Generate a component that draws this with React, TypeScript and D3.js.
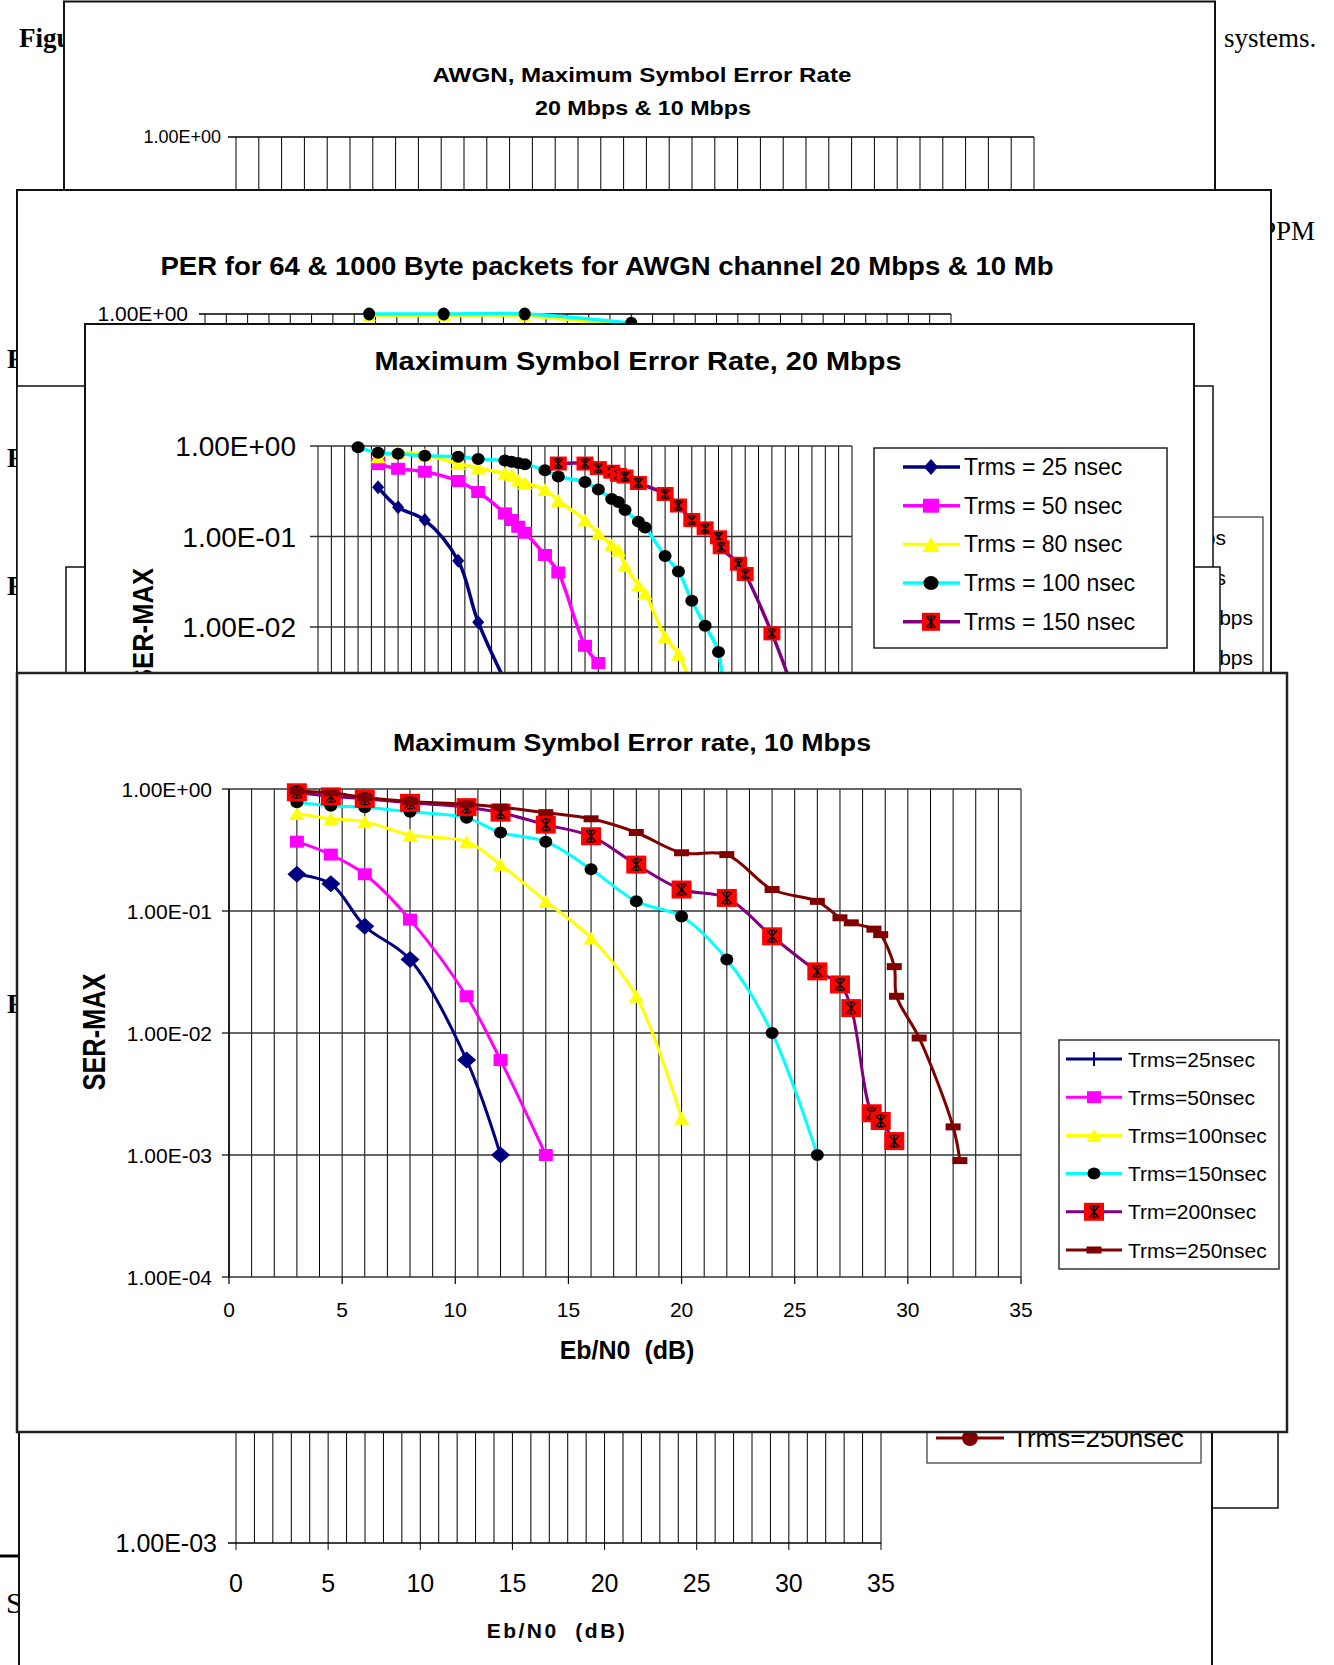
import React from "react";
import * as d3 from "d3";

type Pt = [number, number];

// front chart: Maximum Symbol Error rate, 10 Mbps   [Eb/N0 dB, SER]
const ser10_25: Pt[] = [[3, 0.2], [4.5, 0.167], [6, 0.075], [8, 0.04], [10.5, 0.006], [12, 0.001]];
const ser10_50: Pt[] = [[3, 0.37], [4.5, 0.29], [6, 0.2], [8, 0.085], [10.5, 0.02], [12, 0.006], [14, 0.001]];
const ser10_100: Pt[] = [[3, 0.63], [4.5, 0.57], [6, 0.54], [8, 0.42], [10.5, 0.37], [12, 0.24], [14, 0.12], [16, 0.06], [18, 0.02], [20, 0.002]];
const ser10_150: Pt[] = [[3, 0.78], [4.5, 0.73], [6, 0.71], [8, 0.65], [10.5, 0.58], [12, 0.44], [14, 0.37], [16, 0.22], [18, 0.12], [20, 0.09], [22, 0.04], [24, 0.01], [26, 0.001]];
const ser10_200: Pt[] = [[3, 0.94], [4.5, 0.87], [6, 0.83], [8, 0.77], [10.5, 0.71], [12, 0.64], [14, 0.51], [16, 0.41], [18, 0.24], [20, 0.15], [22, 0.128], [24, 0.062], [26, 0.032], [27, 0.025], [27.5, 0.016], [28.4, 0.0022], [28.8, 0.0019], [29.4, 0.0013]];
const ser10_250: Pt[] = [[3, 0.96], [4.5, 0.93], [6, 0.85], [8, 0.79], [10.5, 0.75], [12, 0.71], [14, 0.64], [16, 0.57], [18, 0.44], [20, 0.3], [22, 0.29], [24, 0.15], [26, 0.12], [27, 0.088], [27.5, 0.08], [28.5, 0.071], [28.8, 0.064], [29.4, 0.035], [29.5, 0.02], [30.5, 0.0091], [32, 0.0017], [32.3, 0.0009]];
const legend10 = ["Trms=25nsec", "Trms=50nsec", "Trms=100nsec", "Trms=150nsec", "Trm=200nsec", "Trms=250nsec"];

// chart behind: Maximum Symbol Error Rate, 20 Mbps
const ser20_25: Pt[] = [[4.5, 0.35], [6, 0.21], [8, 0.152], [10.5, 0.054], [12, 0.0113], [14.5, 0.0018]];
const ser20_50: Pt[] = [[4.5, 0.63], [6, 0.56], [8, 0.52], [10.5, 0.41], [12, 0.31], [14, 0.18], [14.5, 0.152], [15, 0.128], [15.5, 0.11], [17, 0.0625], [18, 0.04], [20, 0.0062], [21, 0.004]];
const ser20_80: Pt[] = [[4.5, 0.76], [6, 0.85], [8, 0.8], [10.5, 0.64], [12, 0.57], [14, 0.5], [14.5, 0.48], [15, 0.42], [15.5, 0.39], [17, 0.33], [18, 0.25], [20, 0.152], [21, 0.108], [22, 0.081], [22.5, 0.071], [23, 0.048], [24, 0.029], [24.5, 0.0236], [26, 0.0078], [27, 0.005], [28, 0.0022]];
const ser20_100: Pt[] = [[3, 0.97], [4.5, 0.84], [6, 0.82], [8, 0.78], [10.5, 0.76], [12, 0.72], [14, 0.69], [14.5, 0.67], [15, 0.65], [15.5, 0.63], [17, 0.54], [18, 0.46], [20, 0.4], [21, 0.33], [22, 0.26], [22.5, 0.24], [23, 0.196], [24, 0.146], [24.5, 0.126], [26, 0.061], [27, 0.041], [28, 0.0195], [29, 0.0103], [30, 0.0053], [30.3, 0.0015]];
const ser20_150: Pt[] = [[18, 0.64], [20, 0.64], [21, 0.57], [22, 0.52], [22.5, 0.48], [23, 0.46], [24, 0.39], [26, 0.295], [27, 0.22], [28, 0.152], [29, 0.123], [30, 0.098], [30.2, 0.076], [31.5, 0.05], [32, 0.0385], [34, 0.0085], [35.5, 0.0022]];
const legend20 = ["Trms = 25 nsec", "Trms = 50 nsec", "Trms = 80 nsec", "Trms = 100 nsec", "Trms = 150 nsec"];

// PER chart, only its top strip shows
const perCyan: Pt[] = [[7.7, 1], [11.2, 1], [15, 1], [20, 0.81]];
const perYellow: Pt[] = [[7.7, 0.97], [11.2, 0.97], [15, 0.96], [20, 0.74]];
const perLegend = ["20 Mbps", "10 Mbps", "20 Mbps", "10 Mbps"];

const yTickVals = [1, 0.1, 0.01, 0.001, 0.0001];
const yTickText = ["1.00E+00", "1.00E-01", "1.00E-02", "1.00E-03", "1.00E-04"];
const xTicks = [0, 5, 10, 15, 20, 25, 30, 35];

const SANS = "'Liberation Sans', Arial, sans-serif";
const SERIF = "'Liberation Serif', 'Times New Roman', serif";
const NAVY = "#000080", MAGENTA = "#FF00FF", YELLOW = "#FFFF00", CYAN = "#00FFFF";
const PURPLE = "#800080", MAROON = "#800000", RED = "#FF0000";

function marker(kind: string, x: number, y: number, w: number, h: number, c: string, key?: React.Key) {
  const hw = w / 2, hh = h / 2;
  if (kind === "diamond") return <path key={key} d={`M${x},${y - hh}L${x + hw},${y}L${x},${y + hh}L${x - hw},${y}Z`} fill={c} />;
  if (kind === "square" || kind === "dash") return <rect key={key} x={x - hw} y={y - hh} width={w} height={h} fill={c} />;
  if (kind === "triangle") return <path key={key} d={`M${x},${y - hh}L${x + hw},${y + hh}L${x - hw},${y + hh}Z`} fill={c} />;
  if (kind === "circle") return <ellipse key={key} cx={x} cy={y} rx={hw} ry={hh} fill={c} />;
  if (kind === "plus") return <path key={key} d={`M${x},${y - hh}V${y + hh}`} stroke={c} strokeWidth={2} />;
  if (kind === "star") {
    const ax = w * 0.25, ay = h * 0.32, cap = w * 0.14;
    return (
      <g key={key}>
        <rect x={x - hw} y={y - hh} width={w} height={h} fill={c} />
        <path d={`M${x},${y - ay}V${y + ay}M${x - ax},${y - ay}L${x + ax},${y + ay}M${x + ax},${y - ay}L${x - ax},${y + ay}M${x - cap},${y - ay}H${x + cap}M${x - cap},${y + ay}H${x + cap}`}
          stroke="#000" strokeWidth={1.4} fill="none" />
      </g>
    );
  }
  return null;
}

type Ser = { data: Pt[]; color: string; mk: string; mw: number; mh: number; mc: string };

function Series({ s, x, y, lw }: { s: Ser; x: any; y: any; lw: number }) {
  const line = d3.line<Pt>().x(d => x(d[0])).y(d => y(d[1])).curve(d3.curveCatmullRom.alpha(0.5));
  return (
    <g>
      <path d={line(s.data) || ""} fill="none" stroke={s.color} strokeWidth={lw} strokeLinejoin="round" strokeLinecap="round" />
      {s.data.map((d, i) => marker(s.mk, x(d[0]), y(d[1]), s.mw, s.mh, s.mc, i))}
    </g>
  );
}

function Box({ x0, y0, x1, y1, sw = 2, stroke = "#111" }: any) {
  return <rect x={x0} y={y0} width={x1 - x0} height={y1 - y0} fill="#fff" stroke={stroke} strokeWidth={sw} />;
}

function PageText() {
  return (
    <g fontFamily={SERIF} fontSize={27}>
      <text x={19} y={47} fontWeight="bold">Figure</text>
      <text x={1224} y={47}>systems.</text>
      <text x={1261} y={240}>PPM</text>
      {[368, 467, 595, 1013].map(b => <text key={b} x={7} y={b} fontWeight="bold">F</text>)}
      <text x={6} y={1613} fontSize={30}>S</text>
      <line x1={0} x2={19} y1={1556} y2={1556} stroke="#000" strokeWidth={3} />
    </g>
  );
}

function ChartAwgn() {
  const x = d3.scaleLinear().domain([0, 35]).range([236, 1034]);
  const top = 137;
  return (
    <g>
      <Box x0={64} y0={1.5} x1={1215} y1={600} />
      <text x={642} y={82} textAnchor="middle" fontWeight="bold" fontSize={21} textLength={419} lengthAdjust="spacingAndGlyphs">AWGN, Maximum Symbol Error Rate</text>
      <text x={643} y={115} textAnchor="middle" fontWeight="bold" fontSize={21} textLength={216} lengthAdjust="spacingAndGlyphs">20 Mbps &amp; 10 Mbps</text>
      {d3.range(0, 36).map(v => <line key={v} x1={x(v)} x2={x(v)} y1={top} y2={500} stroke="#000" strokeWidth={1} />)}
      <line x1={228} x2={1034} y1={top} y2={top} stroke="#000" strokeWidth={1.5} />
      <text x={221} y={top + 6} textAnchor="end" fontSize={18}>{yTickText[0]}</text>
    </g>
  );
}

function ChartPer() {
  const x = d3.scaleLinear().domain([0, 35]).range([205, 951]);
  const y = d3.scaleLog().domain([1e-4, 1]).range([714, 314]);
  const yel: Ser = { data: perYellow, color: YELLOW, mk: "triangle", mw: 14, mh: 12, mc: YELLOW };
  const cy: Ser = { data: perCyan, color: CYAN, mk: "circle", mw: 12, mh: 13, mc: "#000" };
  return (
    <g>
      <Box x0={17} y0={190} x1={1271} y1={1000} />
      <text x={607} y={275} textAnchor="middle" fontWeight="bold" fontSize={25} textLength={893} lengthAdjust="spacingAndGlyphs">PER for 64 &amp; 1000 Byte packets for AWGN channel 20 Mbps &amp; 10 Mb</text>
      {d3.range(0, 36).map(v => <line key={v} x1={x(v)} x2={x(v)} y1={y(1)} y2={y(1e-4)} stroke="#000" strokeWidth={1} />)}
      <line x1={199} x2={951} y1={y(1)} y2={y(1)} stroke="#000" strokeWidth={1.5} />
      <text x={188} y={y(1) + 7} textAnchor="end" fontSize={21}>{yTickText[0]}</text>
      <Series s={yel} x={x} y={y} lw={3.5} />
      <Series s={cy} x={x} y={y} lw={3.5} />
      <rect x={1000} y={517} width={263} height={480} fill="#fff" stroke="#333" strokeWidth={1.2} />
      {perLegend.map((t, i) => (
        <text key={i} x={i < 2 ? 1226 : 1253} y={538 + i * 40 + 7} textAnchor="end" fontSize={21}>{t}</text>
      ))}
    </g>
  );
}

function Chart20() {
  const x = d3.scaleLinear().domain([0, 40]).range([318, 852]);
  const y = d3.scaleLog().domain([1e-4, 1]).range([446 + 4 * 90.5, 446]);
  const series: Ser[] = [
    { data: ser20_25, color: NAVY, mk: "diamond", mw: 12, mh: 14, mc: NAVY },
    { data: ser20_50, color: MAGENTA, mk: "square", mw: 14, mh: 12, mc: MAGENTA },
    { data: ser20_80, color: YELLOW, mk: "triangle", mw: 15, mh: 13, mc: YELLOW },
    { data: ser20_100, color: CYAN, mk: "circle", mw: 13, mh: 12, mc: "#000" },
    { data: ser20_150, color: PURPLE, mk: "star", mw: 17, mh: 14, mc: RED },
  ];
  // only the upper three decades of this chart are left uncovered
  const shown = yTickVals.slice(0, 3);
  return (
    <g>
      <Box x0={85} y0={324} x1={1194} y1={1024} />
      <text x={638} y={370} textAnchor="middle" fontWeight="bold" fontSize={25} textLength={527} lengthAdjust="spacingAndGlyphs">Maximum Symbol Error Rate, 20 Mbps</text>
      {d3.range(0, 41).map(v => <line key={v} x1={x(v)} x2={x(v)} y1={y(1)} y2={y(1e-4)} stroke="#000" strokeWidth={1} />)}
      {yTickVals.map(v => <line key={v} x1={310} x2={852} y1={y(v)} y2={y(v)} stroke="#333" strokeWidth={1.6} />)}
      {shown.map((v, i) => <text key={v} x={296} y={y(v) + 10} textAnchor="end" fontSize={28}>{yTickText[i]}</text>)}
      <text transform="translate(142,627) rotate(-90)" y={11} textAnchor="middle" fontWeight="bold" fontSize={30} textLength={118} lengthAdjust="spacingAndGlyphs">SER-MAX</text>
      {series.map((s, i) => <Series key={i} s={s} x={x} y={y} lw={3.5} />)}
      <rect x={874} y={448} width={293} height={200} fill="#fff" stroke="#222" strokeWidth={1.5} />
      {series.map((s, i) => {
        const ly = 467 + i * 38.7;
        return (
          <g key={i}>
            <line x1={903} x2={960} y1={ly} y2={ly} stroke={s.color} strokeWidth={3.5} />
            {marker(s.mk, 931, ly, s.mk === "star" ? 18 : s.mw + 2, s.mk === "star" ? 18 : s.mh + 2, s.mc)}
            <text x={964} y={ly + 8} fontSize={23}>{legend20[i]}</text>
          </g>
        );
      })}
    </g>
  );
}

function ChartBottom() {
  const x = d3.scaleLinear().domain([0, 35]).range([236, 881]);
  const ax = 1543;
  return (
    <g>
      <Box x0={19} y0={1000} x1={1212} y1={1700} />
      {d3.range(0, 36).map(v => <line key={v} x1={x(v)} x2={x(v)} y1={1100} y2={ax} stroke="#000" strokeWidth={1} />)}
      <line x1={228} x2={881} y1={ax} y2={ax} stroke="#000" strokeWidth={1.5} />
      {xTicks.map(v => <line key={v} x1={x(v)} x2={x(v)} y1={ax} y2={ax + 7} stroke="#000" />)}
      <text x={217} y={ax + 9} textAnchor="end" fontSize={25}>{yTickText[3]}</text>
      {xTicks.map(v => <text key={v} x={x(v)} y={1592} textAnchor="middle" fontSize={25}>{v}</text>)}
      <text x={557} y={1638} textAnchor="middle" fontSize={21} fontWeight="bold" letterSpacing={2.5} style={{ whiteSpace: "pre" }}>Eb/N0  (dB)</text>
      <rect x={927} y={1100} width={274} height={363} fill="#fff" stroke="#444" strokeWidth={1.3} />
      <line x1={936} x2={1004} y1={1438} y2={1438} stroke={MAROON} strokeWidth={3} />
      <circle cx={970} cy={1438} r={8} fill={MAROON} />
      <text x={1012} y={1447} fontSize={26}>Trms=250nsec</text>
    </g>
  );
}

function Chart10() {
  const x = d3.scaleLinear().domain([0, 35]).range([229, 1021]);
  const y = d3.scaleLog().domain([1e-4, 1]).range([1277, 789]);
  const series: Ser[] = [
    { data: ser10_25, color: NAVY, mk: "diamond", mw: 19, mh: 17, mc: NAVY },
    { data: ser10_50, color: MAGENTA, mk: "square", mw: 14, mh: 12, mc: MAGENTA },
    { data: ser10_100, color: YELLOW, mk: "triangle", mw: 15, mh: 13, mc: YELLOW },
    { data: ser10_150, color: CYAN, mk: "circle", mw: 13, mh: 12, mc: "#000" },
    { data: ser10_200, color: PURPLE, mk: "star", mw: 20, mh: 18, mc: RED },
    { data: ser10_250, color: MAROON, mk: "dash", mw: 15, mh: 7, mc: MAROON },
  ];
  return (
    <g>
      <Box x0={17} y0={673} x1={1287} y1={1432} sw={2.5} stroke="#222" />
      <text x={632} y={751} textAnchor="middle" fontWeight="bold" fontSize={23} textLength={478} lengthAdjust="spacingAndGlyphs">Maximum Symbol Error rate, 10 Mbps</text>
      {d3.range(0, 36).map(v => <line key={v} x1={x(v)} x2={x(v)} y1={y(1)} y2={y(1e-4)} stroke="#000" strokeWidth={1} />)}
      {yTickVals.map(v => <line key={v} x1={222} x2={1021} y1={y(v)} y2={y(v)} stroke="#333" strokeWidth={1.5} />)}
      <line x1={229} x2={229} y1={y(1)} y2={y(1e-4)} stroke="#000" strokeWidth={1.5} />
      {xTicks.map(v => <line key={v} x1={x(v)} x2={x(v)} y1={y(1e-4)} y2={y(1e-4) + 7} stroke="#000" strokeWidth={1.2} />)}
      {yTickVals.map((v, i) => <text key={v} x={212} y={y(v) + 7.5} textAnchor="end" fontSize={21}>{yTickText[i]}</text>)}
      {xTicks.map(v => <text key={v} x={x(v)} y={1317} textAnchor="middle" fontSize={21}>{v}</text>)}
      <text x={627} y={1359} textAnchor="middle" fontWeight="bold" fontSize={25} style={{ whiteSpace: "pre" }}>Eb/N0  (dB)</text>
      <text transform="translate(94,1032) rotate(-90)" y={11} textAnchor="middle" fontWeight="bold" fontSize={31} textLength={117} lengthAdjust="spacingAndGlyphs">SER-MAX</text>
      {series.map((s, i) => <Series key={i} s={s} x={x} y={y} lw={3} />)}
      <rect x={1059} y={1040} width={220} height={229} fill="#fff" stroke="#333" strokeWidth={1.5} />
      {series.map((s, i) => {
        const ly = 1059 + i * 38.2;
        const mk = i === 0 ? "plus" : s.mk;
        return (
          <g key={i}>
            <line x1={1066} x2={1122} y1={ly} y2={ly} stroke={s.color} strokeWidth={3} />
            {marker(mk, 1094, ly, s.mk === "star" ? 20 : s.mw, i === 0 ? 14 : s.mh, s.mc)}
            <text x={1128} y={ly + 7.5} fontSize={21}>{legend10[i]}</text>
          </g>
        );
      })}
    </g>
  );
}

export default function App() {
  return (
    <div style={{ position: "absolute", left: 0, top: 0 }}>
      <svg width={1334} height={1665} fontFamily={SANS} style={{ display: "block" }}>
        <rect width={1334} height={1665} fill="#fff" />
        <PageText />
        <ChartAwgn />
        <ChartPer />
        <Box x0={17} y0={386} x1={1213} y1={1000} sw={1.5} />
        <Box x0={66} y0={567} x1={1220} y1={1000} sw={1.5} />
        <Chart20 />
        <Box x0={700} y0={1000} x1={1278} y1={1508} sw={1.5} />
        <ChartBottom />
        <Chart10 />
      </svg>
    </div>
  );
}
